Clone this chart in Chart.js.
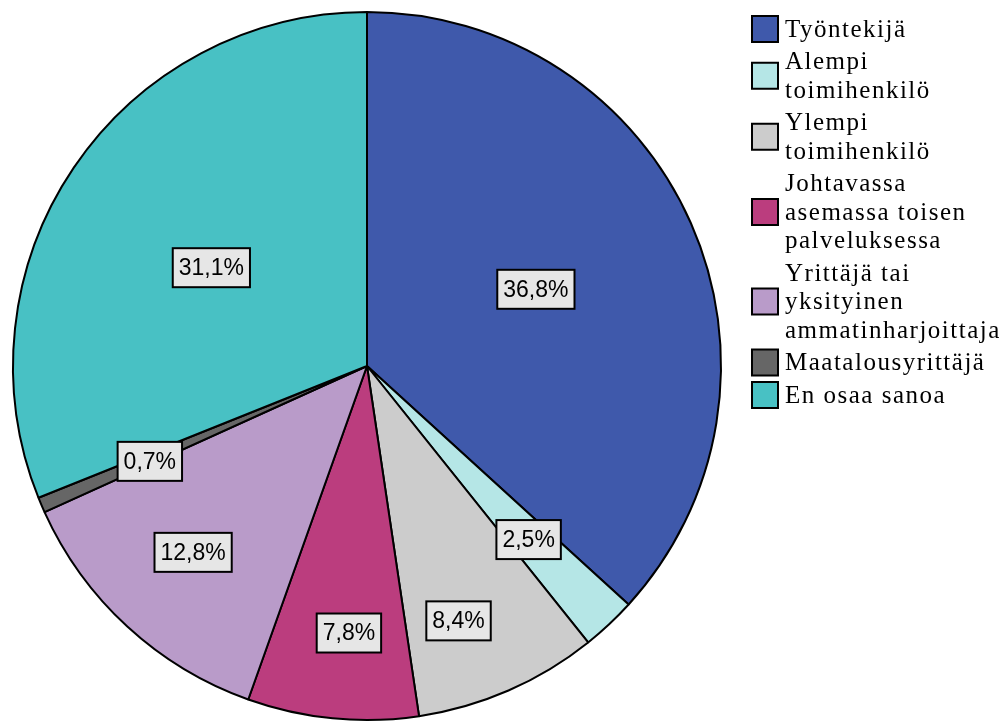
<!DOCTYPE html>
<html>
<head>
<meta charset="utf-8">
<script src="https://cdn.jsdelivr.net/npm/chart.js@4/dist/chart.umd.min.js"></script>
<style>
html,body{margin:0;padding:0;background:#fff;}
#wrap{width:1002px;height:722px;}
</style>
</head>
<body>
<div id="wrap"><canvas id="c" width="1002" height="722"></canvas></div>
<script>
const categories = [
  ["Työntekijä"],
  ["Alempi", "toimihenkilö"],
  ["Ylempi", "toimihenkilö"],
  ["Johtavassa", "asemassa toisen", "palveluksessa"],
  ["Yrittäjä tai", "yksityinen", "ammatinharjoittaja"],
  ["Maatalousyrittäjä"],
  ["En osaa sanoa"]
];
const values = [36.8, 2.5, 8.4, 7.8, 12.8, 0.7, 31.1];
const valueLabels = ["36,8%", "2,5%", "8,4%", "7,8%", "12,8%", "0,7%", "31,1%"];
const colors = ["#3f59ab", "#b5e6e6", "#cccccc", "#bb3d7e", "#b99bc9", "#666666", "#48c1c4"];
// label placement: [angle offset from slice middle (deg), radius fraction]
const labelPlacement = [[-0.6, 0.524], [0.2, 0.67], [3.8, 0.765], [-1.7, 0.756], [0.4, 0.72], [-0.6, 0.67], [-1.8, 0.52]];

const boxLabels = {
  id: 'boxLabels',
  afterDatasetsDraw(chart) {
    const ctx = chart.ctx;
    const meta = chart.getDatasetMeta(0);
    ctx.save();
    ctx.font = '23px "Liberation Sans", Arial, sans-serif';
    ctx.textAlign = 'center';
    ctx.textBaseline = 'middle';
    meta.data.forEach((arc, i) => {
      const p = arc.getProps(['x','y','startAngle','endAngle','outerRadius'], true);
      const mid = (p.startAngle + p.endAngle) / 2 + labelPlacement[i][0] * Math.PI / 180;
      const r = p.outerRadius * labelPlacement[i][1];
      const cx = p.x + Math.cos(mid) * r;
      const cy = p.y + Math.sin(mid) * r;
      const txt = valueLabels[i];
      const w = ctx.measureText(txt).width + 12;
      const h = 39;
      ctx.fillStyle = '#e6e6e6';
      ctx.fillRect(cx - w/2, cy - h/2, w, h);
      ctx.lineWidth = 2;
      ctx.strokeStyle = '#000';
      ctx.strokeRect(cx - w/2, cy - h/2, w, h);
      ctx.fillStyle = '#000';
      ctx.fillText(txt, cx, cy + 1);
    });
    ctx.restore();
  }
};

const sideLegend = {
  id: 'sideLegend',
  afterDraw(chart) {
    const ctx = chart.ctx;
    ctx.save();
    ctx.font = '25px "Liberation Serif", "Times New Roman", serif';
    if ('letterSpacing' in ctx) ctx.letterSpacing = '1.5px';
    ctx.textAlign = 'left';
    ctx.textBaseline = 'middle';
    const lineH = 28.5, gap = 4;
    let y = 29 - lineH / 2;
    categories.forEach((lines, i) => {
      const blockH = lines.length * lineH;
      const cy = y + blockH / 2;
      ctx.fillStyle = colors[i];
      ctx.fillRect(752, cy - 13, 26, 26);
      ctx.lineWidth = 2;
      ctx.strokeStyle = '#000';
      ctx.strokeRect(752, cy - 13, 26, 26);
      ctx.fillStyle = '#000';
      lines.forEach((t, k) => {
        ctx.fillText(t, 785, y + lineH * k + lineH / 2 + 1);
      });
      y += blockH + gap;
    });
    ctx.restore();
  }
};

new Chart(document.getElementById('c'), {
  type: 'pie',
  data: {
    labels: categories.map(l => l.join(' ')),
    datasets: [{
      data: values,
      backgroundColor: colors,
      borderColor: '#000',
      borderWidth: 2,
      hoverOffset: 0
    }]
  },
  options: {
    responsive: false,
    animation: false,
    layout: { padding: { left: 12, right: 280, top: 11, bottom: 1 } },
    plugins: {
      legend: { display: false },
      tooltip: { enabled: false }
    },
    events: []
  },
  plugins: [boxLabels, sideLegend]
});
</script>
</body>
</html>
